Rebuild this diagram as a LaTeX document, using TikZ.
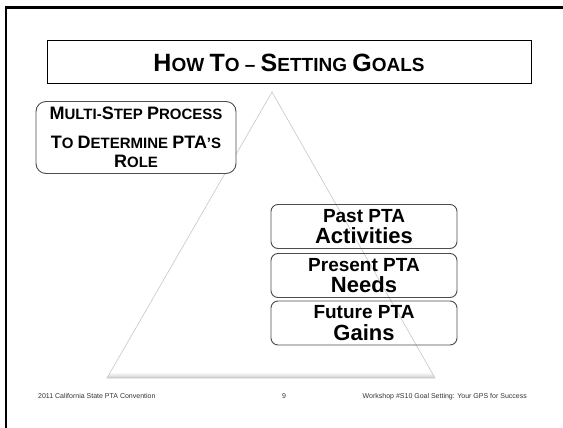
\documentclass[tikz,border=0pt]{standalone}
\usepackage{fontspec}
\setmainfont{Liberation Sans}
\newcommand\tbig[1]{{\fontsize{25}{30}\selectfont #1}}
\newcommand\lbig[1]{{\fontsize{18}{19}\selectfont #1}}
\newcommand\rbig[1]{{\fontsize{22}{21.5}\selectfont #1}}
\begin{document}
\begin{tikzpicture}[x=1pt,y=-1pt,
  framebar/.style={line width=2.3pt, line cap=rect},
  titlebox/.style={draw=black, line width=1pt, minimum width=484pt, minimum height=43pt, inner sep=0pt, text depth=0pt, font=\fontsize{19}{30}\selectfont\bfseries},
  leftbox/.style={draw=black!70, line width=0.9pt, fill=white, rounded corners=10pt, minimum width=200pt, minimum height=72pt, inner sep=0pt, align=center, font=\fontsize{15}{19}\selectfont\bfseries},
  stepbox/.style={draw=black!70, line width=0.9pt, rounded corners=7pt, minimum width=186pt, minimum height=44pt, inner sep=0pt, align=center, font=\fontsize{19}{21.5}\selectfont\bfseries},
  tri/.style={draw=gray!45, line width=0.6pt},
  foot/.style={font=\fontsize{7}{8}\selectfont, inner sep=0pt, text=black!80}
]
\useasboundingbox (0,0) rectangle (563,428);
% triangle
\coordinate (apex) at (272,92);
\coordinate (bl) at (107,378);
\coordinate (br) at (435,378);
\shade[top color=white, bottom color=gray!40] (110.5,372) -- (431.6,372) -- (br) -- (bl) -- cycle;
\draw[tri] (apex) -- (br) -- (bl) -- cycle;
% frame
\draw[framebar] (6,428) -- (6,7.5) -- (563,7.5);
% title
\node[titlebox] (title) at (289,62.5) {\tbig{H}OW \tbig{T}O – \tbig{S}ETTING \tbig{G}OALS};
% left box
\node[leftbox] (multi) at (136,137.5) {\lbig{M}ULTI-\lbig{S}TEP \lbig{P}ROCESS\\[9.5pt]\lbig{T}O \lbig{D}ETERMINE \lbig{PTA}’S\\\lbig{R}OLE};
% steps
\node[stepbox] (past) at (364,226.5) {Past PTA\\\rbig{Activities}};
\node[stepbox] (present) at (364,275.5) {Present PTA\\\rbig{Needs}};
\node[stepbox] (future) at (364,323) {Future PTA\\\rbig{Gains}};
% footer
\node[foot, anchor=base west] (conv) at (38,398.5) {2011 California State PTA Convention};
\node[foot, anchor=base] (page) at (284,398.5) {9};
\node[foot, anchor=base east] (work) at (527,398.5) {Workshop \#S10 Goal Setting: Your GPS for Success};
\end{tikzpicture}
\end{document}
